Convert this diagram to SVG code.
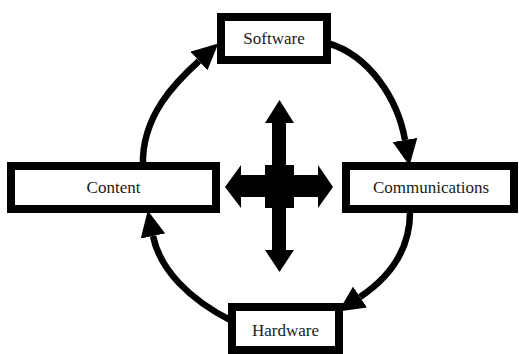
<svg xmlns="http://www.w3.org/2000/svg" width="519" height="354" viewBox="0 0 519 354">
  <style>
    .box { fill: #ffffff; stroke: #000000; stroke-width: 8; }
    .label { font-family: 'Liberation Serif', 'DejaVu Serif', serif; font-size: 17px; fill: #1a1a1a; text-anchor: middle; }
    .flow { fill: none; stroke: #000000; stroke-width: 6.5; marker-end: url(#head); }
  </style>
  <defs>
    <marker id="head" viewBox="0 0 24 24" markerUnits="userSpaceOnUse" markerWidth="25" markerHeight="25" refX="0" refY="12" orient="auto">
      <path d="M0,0 L25,12 L0,24 z" fill="#000000"/>
    </marker>
  </defs>
  <rect width="519" height="354" fill="#ffffff"/>

  <!-- circular flow between the four parts -->
  <g id="connectors">
    <path class="flow" d="M143,166 C141,115 178,80 199,61"/>
    <path class="flow" d="M327,43 C370,55 398,100 405,140"/>
    <path class="flow" d="M410,209 C411,250 390,277 360,297"/>
    <path class="flow" d="M232,321 C190,300 160,270 153,236"/>
  </g>

  <!-- four-way arrow in the middle -->
  <g id="cross">
    <polygon fill="#000000" points="279.5,100 294,123 286,123 286,165 294,165 294,175 318,175 318,165 333,187 318,208 318,197 294,197 294,208 286,208 286,250 294,250 279.5,272 265,250 272,250 272,208 265,208 265,197 241,197 241,208 225,187 241,165 241,175 265,175 265,165 272,165 272,123 265,123"/>
  </g>

  <g id="software">
    <rect class="box" x="221" y="17" width="106" height="43"/>
    <text class="label" x="274" y="44" font-family="Liberation Serif, serif">Software</text>
  </g>
  <g id="content">
    <rect class="box" x="11" y="166" width="205" height="43"/>
    <text class="label" x="113.5" y="193" font-family="Liberation Serif, serif">Content</text>
  </g>
  <g id="communications">
    <rect class="box" x="346" y="166" width="168" height="43"/>
    <text class="label" x="431" y="193" font-family="Liberation Serif, serif">Communications</text>
  </g>
  <g id="hardware">
    <rect class="box" x="232" y="307" width="107" height="43"/>
    <text class="label" x="285.5" y="336" font-family="Liberation Serif, serif">Hardware</text>
  </g>
</svg>
